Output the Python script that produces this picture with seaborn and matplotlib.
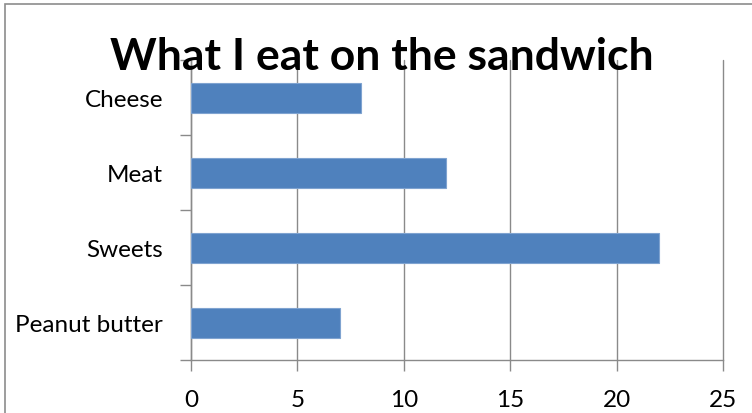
import matplotlib
matplotlib.use("Agg")
import matplotlib.pyplot as plt
import seaborn as sns
import pandas as pd
from matplotlib.patches import Rectangle

categories = ["Cheese", "Meat", "Sweets", "Peanut butter"]
values = [8, 12, 22, 7]
x_ticks = [0, 5, 10, 15, 20, 25]
title = "What I eat on the sandwich"

sns.set_theme(style="white")
plt.rcParams["font.family"] = ["Lato", "DejaVu Sans"]

W, H = 752, 414
fig = plt.figure(figsize=(W / 100, H / 100), dpi=100)

# chart frame (left and top edges visible)
fig.patches.append(Rectangle((5 / W, -0.1), 2, 1.1 - 5 / H, transform=fig.transFigure,
                             fill=False, edgecolor="#8c8c8c", linewidth=1.2))

ax = fig.add_axes([191 / W, 53 / H, (723 - 191) / W, (361 - 61) / H])
df = pd.DataFrame({"item": categories, "count": values})
sns.barplot(data=df, x="count", y="item", order=categories, orient="h",
            color="#4F81BD", saturation=1, width=0.4, edgecolor="#7FA3D0",
            linewidth=0.8, ax=ax, zorder=3)

ax.set_xlim(0, 25)
ax.set_ylim(3.5, -0.5)
ax.set_xticks(x_ticks)
ax.set_xticklabels([str(t) for t in x_ticks])
ax.set_xlabel("")
ax.set_ylabel("")

gray = "#8a8a8a"
ax.grid(axis="x", color=gray, linewidth=1.0, zorder=0)
ax.grid(axis="y", visible=False)
for line in ax.get_xgridlines():
    line.set_clip_on(False)
for s in ["top", "right"]:
    ax.spines[s].set_visible(False)
for s in ["left", "bottom"]:
    ax.spines[s].set_color(gray)
    ax.spines[s].set_linewidth(1.0)

# category boundary ticks on the vertical axis
ax.set_yticks([-0.5, 0.5, 1.5, 2.5, 3.5], minor=True)
ax.tick_params(axis="y", which="minor", left=True, length=8, color=gray, width=1)
ax.tick_params(axis="y", which="major", left=False, pad=14, labelsize=17.5, labelcolor="black")
ax.tick_params(axis="x", which="major", bottom=True, length=8, color=gray, width=1,
               pad=13, labelsize=17.5, labelcolor="black")

fig.text(382 / W, 1 - 70 / H, title, ha="center", va="baseline",
         fontsize=32, fontweight="bold", color="black")

fig.savefig("out.png", dpi=100)
